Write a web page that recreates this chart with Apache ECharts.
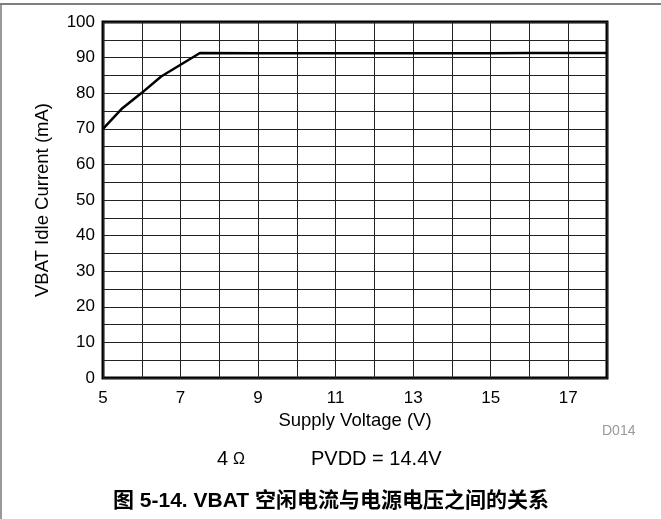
<!DOCTYPE html>
<html>
<head>
<meta charset="utf-8">
<script src="https://cdn.jsdelivr.net/npm/echarts@6/dist/echarts.min.js"></script>
<style>
  html, body { margin: 0; padding: 0; background: #fff; }
  #chart { width: 661px; height: 519px; }
</style>
</head>
<body>
<div id="chart"></div>
<script>
// Supply voltage (V) and VBAT idle current (mA)
const supplyVoltage = [5, 5.5, 6, 6.5, 7, 7.5, 9, 11, 13, 15, 16, 18];
const idleCurrent   = [70, 75.8, 80.1, 84.7, 88.0, 91.3, 91.2, 91.2, 91.2, 91.2, 91.3, 91.3];

const xTickLabels = [5, 7, 9, 11, 13, 15, 17];
const yTickLabels = [0, 10, 20, 30, 40, 50, 60, 70, 80, 90, 100];

const font = '"Liberation Sans", Arial, sans-serif';
const chart = echarts.init(document.getElementById('chart'), null, { renderer: 'canvas' });

chart.setOption({
  animation: false,
  backgroundColor: '#fff',
  grid: {
    left: 103, top: 22, width: 504, height: 356,
    show: true, borderColor: '#000', borderWidth: 3, backgroundColor: 'transparent'
  },
  xAxis: {
    type: 'value', min: 5, max: 18, interval: 1,
    axisLine: { show: false }, axisTick: { show: false },
    splitLine: { show: true, lineStyle: { color: '#222', width: 1 } },
    axisLabel: {
      color: '#000', fontFamily: font, fontSize: 17, margin: 12,
      formatter: v => xTickLabels.includes(v) ? String(v) : ''
    },
    name: 'Supply Voltage (V)', nameLocation: 'middle', nameGap: 33,
    nameTextStyle: { color: '#000', fontFamily: font, fontSize: 18.5 }
  },
  yAxis: {
    type: 'value', min: 0, max: 100, interval: 5,
    axisLine: { show: false }, axisTick: { show: false },
    splitLine: { show: true, lineStyle: { color: '#222', width: 1 } },
    axisLabel: {
      color: '#000', fontFamily: font, fontSize: 17, margin: 8,
      formatter: v => yTickLabels.includes(v) ? String(v) : ''
    },
    name: 'VBAT Idle Current (mA)', nameLocation: 'middle', nameGap: 51,
    nameTextStyle: { color: '#000', fontFamily: font, fontSize: 18.5 }
  },
  series: [{
    type: 'line',
    data: supplyVoltage.map((v, i) => [v, idleCurrent[i]]),
    showSymbol: false,
    lineStyle: { color: '#000', width: 2.5 },
    z: 5
  }],
  graphic: [
    { type: 'line', shape: { x1: 0, y1: 4, x2: 661, y2: 4 }, style: { stroke: '#555', lineWidth: 1.5 } },
    { type: 'line', shape: { x1: 1, y1: 4, x2: 1, y2: 519 }, style: { stroke: '#777', lineWidth: 1.5 } },
    { type: 'text', left: 602, top: 424, style: { text: 'D014', fill: '#999', font: '14px ' + font } },
    { type: 'text', x: 217, y: 469, style: {
        text: '4', fill: '#000', font: '20px ' + font, verticalAlign: 'bottom'
      } },
    { type: 'text', x: 233, y: 468, style: {
        text: 'Ω', fill: '#000', font: '16px ' + font, verticalAlign: 'bottom'
      } },
    { type: 'text', left: 311, top: 449, style: { text: 'PVDD = 14.4V', fill: '#000', font: '20px ' + font } },
    { type: 'text', left: 113, top: 491, style: {
        text: '图 5-14. VBAT 空闲电流与电源电压之间的关系', fill: '#000',
        font: 'bold 21px "Liberation Sans", "Noto Sans CJK SC", sans-serif'
      } }
  ]
});
</script>
</body>
</html>
